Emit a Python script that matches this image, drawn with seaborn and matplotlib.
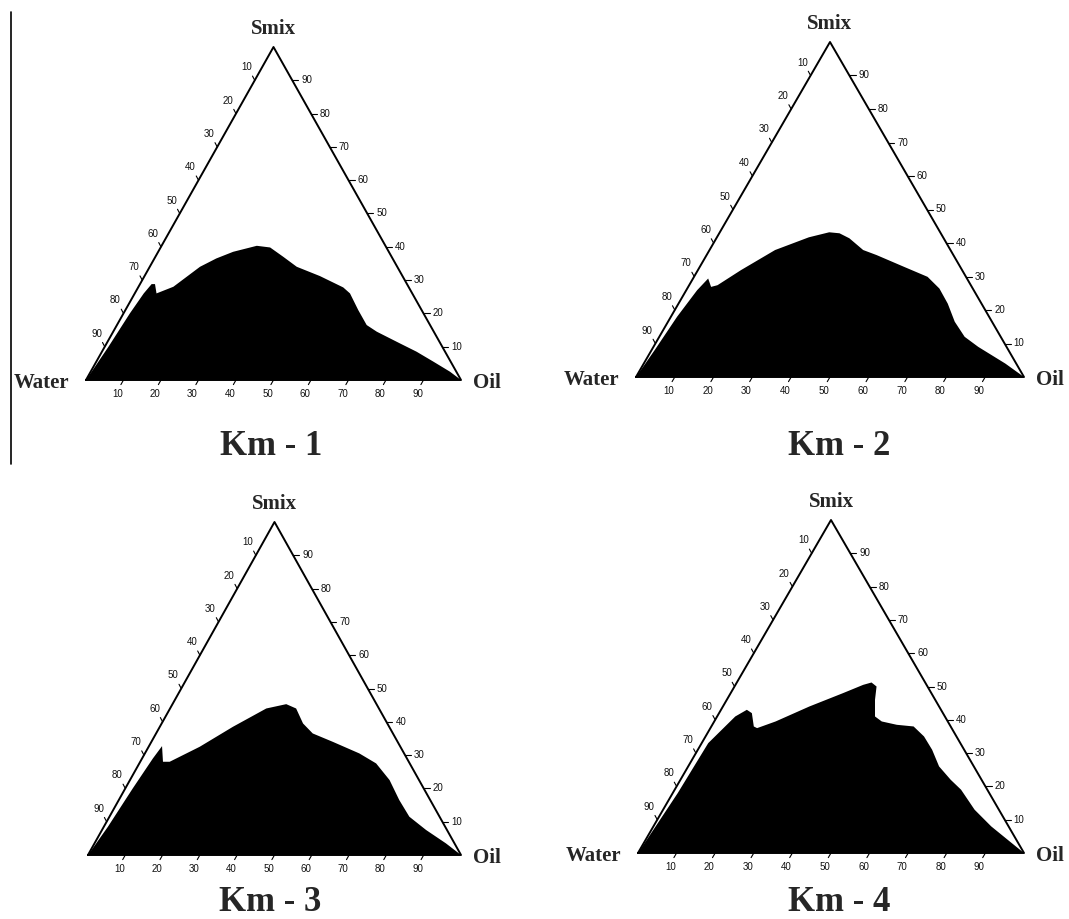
import numpy as np
import matplotlib
matplotlib.use("Agg")
import matplotlib.pyplot as plt
import matplotlib.transforms as mtrans
from matplotlib.lines import Line2D
import seaborn as sns

sns.set_theme(style="white")
plt.rcParams['font.family'] = ['Liberation Serif', 'DejaVu Serif']

# ---------------- data: boundary of the black (microemulsion) region -------------
# points given as (Oil %, Smix %) ; Water % = 100 - Oil - Smix
km1_oil = [0, 1.0, 1.7, 2.4, 3.1, 4.0, 5.8, 9.3, 13.4, 16.5, 20.0, 25.4, 29.2, 34.1, 39.2,
           46.8, 54.7, 57.4, 62.1, 66.6, 70.3, 78.2, 83.9, 89.9, 95.8, 100]
km1_smix = [0, 10, 20, 26, 28.8, 28.8, 26, 28, 34, 36.5, 38.5, 40.3, 39.8, 37, 34,
            31.2, 27.8, 26, 21, 16.5, 14.5, 11, 8.5, 5.5, 2.5, 0]

km2_oil = [0, 0.8, 1.6, 2.8, 3.9, 5.9, 7.3, 11.1, 16.9, 23.7, 28.2, 31.0, 34.3, 39.6, 43.8,
           52.6, 60.2, 65.0, 69.4, 73.9, 78.7, 83.7, 93.2, 100]
km2_smix = [0, 8, 18, 25.9, 29.4, 26.9, 27.4, 31.9, 37.9, 41.7, 43.2, 42.9, 41.4, 37.9, 36.4,
            32.9, 29.9, 26.4, 21.9, 16.5, 12.0, 9.0, 4.0, 0]

km3_oil = [0, 1.1, 2.0, 2.9, 3.5, 6.1, 7.9, 13.7, 19.6, 25.8, 30.5, 33.8, 37.9, 42.0, 48.6,
           57.5, 63.5, 69.6, 75.2, 80.4, 86.9, 94.2, 100]
km3_smix = [0, 8.5, 20, 29, 32.7, 28, 28, 32.5, 38.5, 44, 45.3, 44, 39.5, 36.5, 34,
            30.5, 27.5, 22.5, 16.5, 11.5, 7.5, 3.5, 0]

km4_oil = [0, 1.3, 1.7, 3.2, 4.7, 6.7, 8.5, 11.0, 12.1, 15.9, 22.4, 29.1, 33.1, 34.9, 36.8,
           38.4, 40.9, 43.4, 47.8, 52.4, 56.6, 60.7, 65.0, 70.0, 74.2, 80.7, 87.5, 95.3, 100]
km4_smix = [0, 18, 33, 37, 41, 43, 42, 38, 37.5, 39.5, 44, 48, 50.5, 51.2, 50,
            46, 41, 39.5, 38.5, 38, 35, 31, 26, 22, 19, 13, 8, 3, 0]

titles = ["Km - 1", "Km - 2", "Km - 3", "Km - 4"]
tick_values = [10, 20, 30, 40, 50, 60, 70, 80, 90]
vertex_names = {"water": "Water", "oil": "Oil", "apex": "Smix"}
show_water = [True, True, False, True]

regions = [(km1_oil, km1_smix), (km2_oil, km2_smix), (km3_oil, km3_smix), (km4_oil, km4_smix)]

# ---------------- layout (pixels in the 1069x919 image) -------------------------
W, H = 1069, 919
# (water_x, oil_x, base_y, apex_y), panel box (x0, y0, x1, y1), title baseline
geo = [
    ((86, 461, 380, 47), (0, 0, 535, 460), (271, 455)),
    ((636, 1024, 377, 42), (535, 0, 1069, 460), (839, 455)),
    ((88, 461, 855, 522), (0, 460, 535, 919), (270, 911)),
    ((638, 1024, 853, 520), (535, 460, 1069, 919), (839, 911)),
]

R3 = np.sqrt(3) / 2


def tern(oil, smix):
    oil = np.asarray(oil, float)
    smix = np.asarray(smix, float)
    return oil + smix / 2.0, smix * R3


fig = plt.figure(figsize=(W / 100, H / 100), dpi=100)

for i in range(4):
    (wx, ox, by, ay), (px0, py0, px1, py1), (tx, ty) = geo[i]
    sx = (ox - wx) / 100.0
    sy = (by - ay) / (100.0 * R3)
    ax = fig.add_axes([px0 / W, 1 - py1 / H, (px1 - px0) / W, (py1 - py0) / H])
    ax.set_xlim((px0 - wx) / sx, (px1 - wx) / sx)
    ax.set_ylim((by - py1) / sy, (by - py0) / sy)
    ax.axis("off")

    # black region
    oil, smix = regions[i]
    x, y = tern(oil, smix)
    ax.fill(x, y, color="black", lw=0, zorder=1)

    # triangle outline
    tx_, ty_ = tern([0, 100, 0, 0], [0, 0, 100, 0])
    sns.lineplot(x=tx_, y=ty_, sort=False, color="black", lw=1.4, ax=ax, zorder=3,
                 estimator=None)

    def off(dx, dy):
        return mtrans.offset_copy(ax.transData, fig=fig, x=dx, y=dy, units="dots")

    tv = np.array(tick_values, float)
    # bottom axis (Oil): ticks parallel to left side, outward down-left
    bx, byy = tern(tv, np.zeros_like(tv))
    for xx, yy, v in zip(bx, byy, tick_values):
        ax.plot([xx, xx - 0.7], [yy, yy - 1.2], color="black", lw=0.8, zorder=3)
        ax.text(xx, yy, str(v), transform=off(-6, -14), ha="center", va="center",
                fontsize=7, family="Liberation Sans", color="#111111")
    # right axis (Smix): horizontal ticks outward right
    rx, ry = tern(100 - tv, tv)
    for xx, yy, v in zip(rx, ry, tick_values):
        ax.plot([xx, xx + 1.6], [yy, yy], color="black", lw=0.8, zorder=3)
        ax.text(xx, yy, str(v), transform=off(9, 0), ha="left", va="center",
                fontsize=7, family="Liberation Sans", color="#111111")
    # left axis (Water): ticks parallel to right side, outward up-left
    lx, ly = tern(np.zeros_like(tv), 100 - tv)
    for xx, yy, v in zip(lx, ly, tick_values):
        ax.plot([xx, xx - 0.6], [yy, yy + 1.1], color="black", lw=0.8, zorder=3)
        ax.text(xx, yy, str(v), transform=off(-8, 13), ha="center", va="center",
                fontsize=7, family="Liberation Sans", color="#111111")

    # vertex labels
    ax.text(50, 100 * R3, vertex_names["apex"], transform=off(0, 18), ha="center",
            va="center", fontsize=15, fontweight="bold")
    ax.text(100, 0, vertex_names["oil"], transform=off(26, -3), ha="center",
            va="center", fontsize=15, fontweight="bold")
    if show_water[i]:
        ax.text(0, 0, vertex_names["water"], transform=off(-44, -3), ha="center",
                va="center", fontsize=15, fontweight="bold")

    fig.text(tx / W, 1 - ty / H, titles[i], ha="center", va="baseline",
             fontsize=25, fontweight="bold")

# thin vertical separator at the left
fig.add_artist(Line2D([11 / W, 11 / W], [1 - 12 / H, 1 - 464 / H],
                      transform=fig.transFigure, color="black", lw=1.2))

fig.savefig("out.png", dpi=100, facecolor="white")
